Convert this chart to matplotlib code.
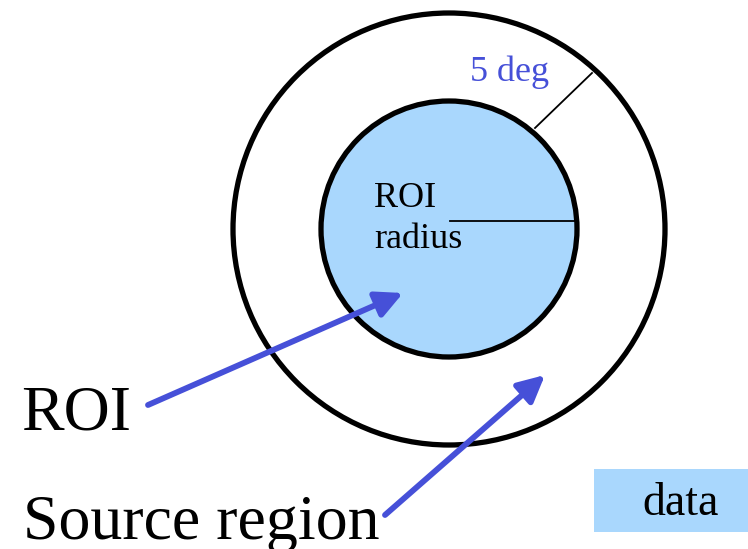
import matplotlib.pyplot as plt
from matplotlib.patches import Circle, Rectangle

# diagram labels
labels_big = ["ROI", "Source region"]
inner_label = ["ROI", "radius"]
gap_label = "5 deg"
legend_label = "data"

blue_fill = '#A9D7FD'
arrow_blue = '#4650D8'

# geometry (pixel coords, y pointing down)
centre = (449, 229)
r_outer = 216
r_inner = 128

fig = plt.figure(figsize=(7.48, 5.49), dpi=100)
ax = fig.add_axes([0, 0, 1, 1])
ax.set_xlim(0, 748)
ax.set_ylim(549, 0)
ax.set_aspect('equal')
ax.axis('off')

plt.rcParams['font.family'] = ['Liberation Serif', 'DejaVu Serif']

# circles
ax.add_patch(Circle(centre, r_outer, facecolor='none', edgecolor='black', lw=3.8))
ax.add_patch(Circle(centre, r_inner, facecolor=blue_fill, edgecolor='black', lw=3.8))

# radius line and 5 deg line
ax.plot([450, 576], [221, 221], color='black', lw=1.3)
ax.plot([535, 592], [128, 73], color='black', lw=1.3)

# texts
ax.text(470, 81, gap_label, color=arrow_blue, fontsize=26, va='baseline', ha='left')
ax.text(374, 207, inner_label[0], color='black', fontsize=26, va='baseline', ha='left')
ax.text(374, 248, inner_label[1], color='black', fontsize=26, va='baseline', ha='left')
ax.text(21, 430, labels_big[0], color='black', fontsize=46, va='baseline', ha='left')
ax.text(23, 539, labels_big[1], color='black', fontsize=46, va='baseline', ha='left')

# arrows
for tail, tip in [((148, 405), (403, 293)), ((385, 515), (545, 375))]:
    ax.annotate('', xy=tip, xytext=tail,
                arrowprops=dict(arrowstyle='-|>,head_length=1.6,head_width=0.8',
                                color=arrow_blue, lw=4.2, shrinkA=0, shrinkB=0))

# legend box
ax.add_patch(Rectangle((594, 469), 154, 63, facecolor=blue_fill, edgecolor='none'))
ax.text(681, 515, legend_label, color='black', fontsize=33, va='baseline', ha='center')

fig.savefig('out.png', dpi=100)
